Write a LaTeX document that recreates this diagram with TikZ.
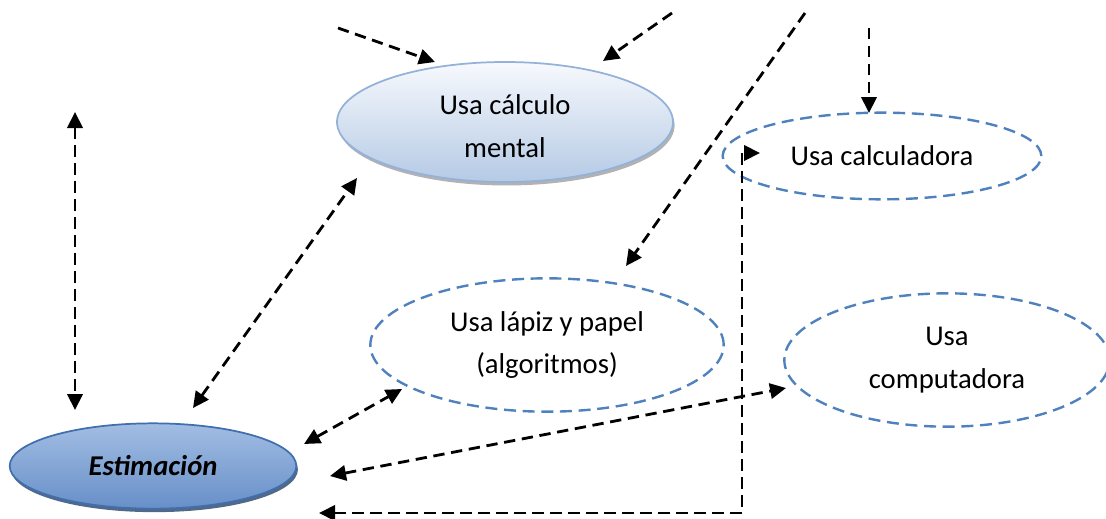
\documentclass[tikz,border=0pt]{standalone}
\usepackage{fontspec}
\setmainfont{Carlito}
\usetikzlibrary{arrows.meta,shapes.geometric,shadows}
\definecolor{officeblue}{HTML}{4F81BD}
\definecolor{paleborder}{HTML}{93B1D9}
\definecolor{paletop}{HTML}{F7F9FD}
\definecolor{palebottom}{HTML}{B5CAE5}
\definecolor{deeptop}{HTML}{A2BDE3}
\definecolor{deepmid}{HTML}{4A7BBA}
\definecolor{deepbottom}{HTML}{678FC8}
\definecolor{deepborder}{HTML}{3F6FAE}
\begin{document}
\begin{tikzpicture}[x=0.75pt,y=-0.75pt,
  every node/.style={font=\fontsize{21.5}{32}\selectfont, align=center},
  bubble/.style={ellipse, inner sep=0pt},
  paleball/.style={bubble, draw=paleborder, line width=1.3pt,
    top color=paletop, bottom color=palebottom,
    drop shadow={shadow xshift=1.2pt, shadow yshift=-2.6pt, fill=black!55, opacity=0.55}},
  deepball/.style={bubble, draw=deepborder, line width=1.3pt,
    top color=deeptop, middle color=deepmid, bottom color=deepbottom,
    drop shadow={shadow xshift=1.2pt, shadow yshift=-2.6pt, fill=deepborder!60!black, opacity=0.8}},
  dashball/.style={bubble, draw=officeblue, line width=1.8pt, dash pattern=on 9pt off 5pt},
  link/.style={draw=black, line width=2.1pt, dash pattern=on 8.5pt off 5pt},
  >={Triangle[length=12pt,width=11.5pt]}]
\useasboundingbox (0,0) rectangle (1106,518);

% ideas
\node[paleball, minimum width=252pt, minimum height=90pt] (mental) at (505,122) {};
\node[deepball, minimum width=215pt, minimum height=64pt] (estim) at (153,466) {\bfseries\itshape Estimación};
\node[dashball, minimum width=239pt, minimum height=65pt] (calc) at (882,156) {Usa calculadora};
\node[dashball, minimum width=265pt, minimum height=100pt] (lapiz) at (547,345) {Usa lápiz y papel\\(algoritmos)};
\node[dashball, minimum width=244pt, minimum height=100pt] (comp) at (947,360) {Usa\\computadora};
\node (mentaltext) at ([yshift=-3pt]mental.center) {Usa cálculo\\mental};

% loose ends at the top and left
\coordinate (upleft) at (75,112);
\coordinate (srcA) at (338,28);
\coordinate (srcB) at (672,13);
\coordinate (srcC) at (805,13);
\coordinate (srcD) at (869,28);

% connectors
\draw[link,<->] (upleft) -- ([shift={(-78,-56)}]estim.center);
\draw[link,<->] ([shift={(40,-58)}]estim.center) -- ([shift={(-148,56)}]mental.center);
\draw[link,<->] ([shift={(151,-22)}]estim.center) -- ([shift={(-145,44)}]lapiz.center);
\draw[link,<->] ([shift={(177,10)}]estim.center) -- ([shift={(-161,28)}]comp.center);
\draw[link,<->] ([shift={(166,47)}]estim.center) -| ([shift={(-140,-3)}]calc.center) -- ([shift={(-122,-3)}]calc.center);
\draw[link,->] (srcA) -- ([shift={(-70,-60)}]mental.center);
\draw[link,->] (srcB) -- ([shift={(98,-61)}]mental.center);
\draw[link,->] (srcC) -- ([shift={(79,-79)}]lapiz.center);
\draw[link,->] (srcD) -- ([shift={(-13,-43)}]calc.center);
\end{tikzpicture}
\end{document}
